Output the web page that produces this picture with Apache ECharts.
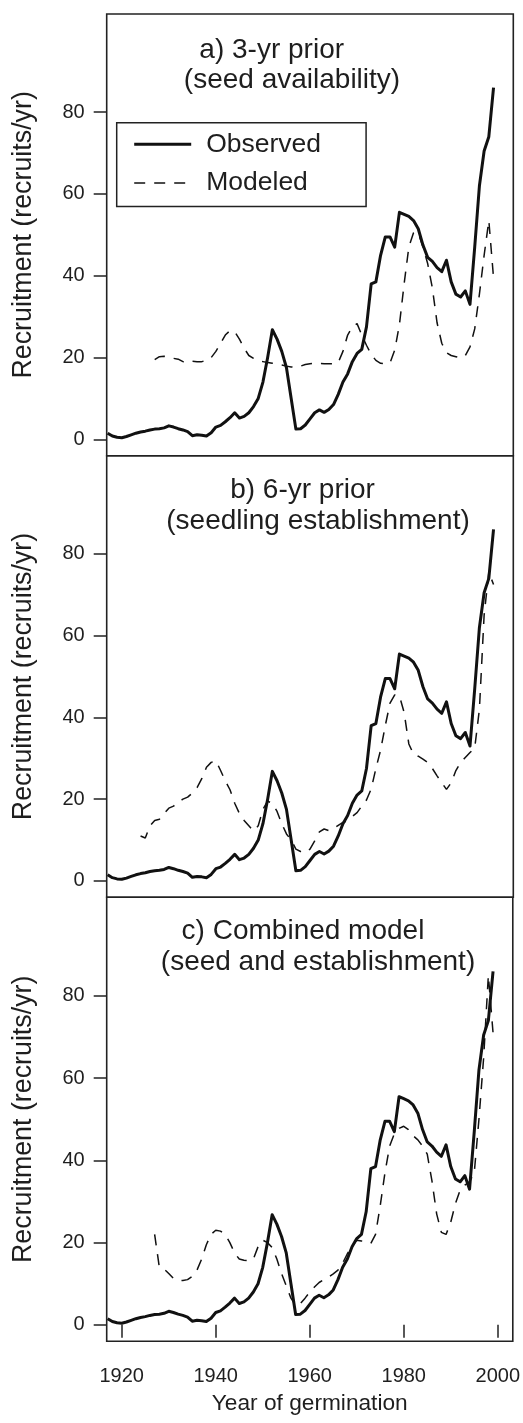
<!DOCTYPE html>
<html><head><meta charset="utf-8">
<script src="https://cdn.jsdelivr.net/npm/echarts@6/dist/echarts.min.js"></script>
<style>html,body{margin:0;padding:0;background:#fff}#c{width:523px;height:1423px}</style>
</head><body><div id="c"></div><script>
// ---- data ----
const yTickValues = [0, 20, 40, 60, 80];
const xTickValues = [1920, 1940, 1960, 1980, 2000];

const observedStart = 1917;
const observed = [
  1.5,0.8,0.5,0.4,0.7,1.1,1.5,1.8,2.0,2.3,
  2.5,2.6,2.8,3.3,3.0,2.6,2.3,1.9,0.9,1.1,
  1.0,0.8,1.6,3.0,3.4,4.3,5.3,6.5,5.2,5.6,
  6.5,8.0,10.0,14.0,20.0,26.8,24.5,21.5,17.5,10.0,
  2.5,2.6,3.5,5.0,6.5,7.2,6.6,7.3,8.5,11.0,
  14.0,16.0,19.0,21.0,22.0,27.5,38.0,38.5,45.0,49.5,
  49.5,47.0,55.5,55.0,54.5,53.5,51.5,47.5,44.5,43.5,
  42.0,41.0,43.8,38.5,35.5,34.8,36.3,33.0,47.0,62.0,
  70.5,74.0,86.0
];

const modeledAStart = 1927;
const modeledA = [
  19.5,20.2,20.3,20.0,19.8,19.6,19.0,18.7,19.1,19.0,
  19.0,19.2,20.0,21.5,23.5,25.5,26.6,26.3,24.5,22.3,
  20.5,19.8,19.2,19.0,18.8,18.6,18.4,18.2,17.9,17.7,
  17.6,17.9,18.3,18.5,18.6,18.6,18.5,18.5,18.5,18.8,
  21.5,25.5,27.5,28.3,25.5,23.0,20.8,19.3,18.6,18.5,
  18.7,21.8,28.0,38.0,47.0,50.5,50.5,47.0,43.0,37.0,
  28.5,23.5,21.2,20.5,20.2,19.9,20.5,22.6,27.0,35.5,
  45.0,53.5,39.5
];

const modeledBStart = 1924;
const modeledB = [
  11.0,10.5,13.5,14.8,15.1,16.5,17.8,18.3,19.3,20.0,
  20.5,21.5,22.8,25.0,27.8,29.0,29.4,27.0,24.5,22.3,
  19.0,16.5,14.8,13.5,12.2,13.5,17.5,19.5,19.0,17.0,
  14.0,11.5,10.0,7.8,7.2,6.9,7.8,9.8,12.0,12.7,
  12.3,12.8,13.6,14.3,14.8,15.8,16.7,18.3,19.8,22.5,
  27.5,32.0,38.0,43.5,45.5,45.3,41.2,33.5,31.0,30.5,
  29.8,29.0,27.5,25.7,24.0,22.4,24.0,27.0,29.0,30.2,
  31.4,32.5,42.0,65.0,75.5,72.5
];

const modeledCStart = 1927;
const modeledC = [
  22.0,14.0,13.6,12.5,11.3,10.8,10.8,11.0,11.8,13.3,
  16.0,19.5,22.0,23.0,22.8,22.0,20.0,17.5,16.0,15.7,
  15.6,16.0,19.0,20.6,20.0,18.8,16.0,12.5,9.5,6.5,
  4.7,5.2,6.5,8.0,9.2,10.3,11.0,11.6,12.4,13.3,
  15.0,17.3,19.0,20.6,20.4,20.2,19.8,22.0,29.0,37.0,
  43.5,46.5,47.8,48.3,47.5,46.0,45.0,43.5,41.5,35.0,
  27.0,22.5,22.0,25.0,29.5,32.8,34.0,34.8,37.0,50.0,
  65.0,85.0,71.0
];

const panelTitles = [
  ["a) 3-yr prior", "(seed availability)"],
  ["b) 6-yr prior", "(seedling establishment)"],
  ["c) Combined model", "(seed and establishment)"]
];
const seriesNames = ["Observed", "Modeled"];
const yAxisTitle = "Recruitment (recruits/yr)";
const xAxisTitle = "Year of germination";

// ---- chart ----
const FONT = "Liberation Sans, Arial, Helvetica, sans-serif";
const INK = "#1e1e1e";
function pairs(start, vals) { return vals.map((v, i) => [start + i, v]); }

const grids = [
  { top: 14, height: 441.7 },
  { top: 455.7, height: 441.6 },
  { top: 897.3, height: 444 }
];
const modeled = [[modeledAStart, modeledA], [modeledBStart, modeledB], [modeledCStart, modeledC]];

const option = {
  backgroundColor: "#fff",
  animation: false,
  textStyle: { fontFamily: FONT, color: INK },
  grid: grids.map(g => ({
    left: 106.7, right: 9.7, top: g.top, height: g.height,
    show: true, borderColor: "#222", borderWidth: 1.6, backgroundColor: "transparent",
    containLabel: false
  })),
  xAxis: grids.map((g, i) => ({
    type: "value", gridIndex: i, min: 1916.8, max: 2003.2,
    splitLine: { show: false },
    axisLine: { show: false },
    axisTick: { show: i === 2, inside: false, length: 13, customValues: xTickValues,
                lineStyle: { color: "#222", width: 1.5 } },
    axisLabel: { show: i === 2, customValues: xTickValues, margin: 25,
                 fontSize: 20, fontFamily: FONT, color: INK, formatter: v => String(v) },
    name: i === 2 ? xAxisTitle : "",
    nameLocation: "middle", nameGap: 51,
    nameTextStyle: { fontSize: 22.7, fontFamily: FONT, color: INK }
  })),
  yAxis: grids.map((g, i) => ({
    type: "value", gridIndex: i, min: -4, max: 104,
    splitLine: { show: false },
    axisLine: { show: false },
    axisTick: { show: true, inside: false, length: 13, customValues: yTickValues,
                lineStyle: { color: "#222", width: 1.5 } },
    axisLabel: { customValues: yTickValues, margin: 22, fontSize: 20,
                 fontFamily: FONT, color: INK },
    name: yAxisTitle, nameLocation: "middle", nameGap: 70, nameRotate: 90,
    nameTextStyle: { fontSize: 26.8, fontFamily: FONT, color: INK }
  })),
  legend: {
    data: seriesNames,
    orient: "vertical", left: 116.7, top: 122.7,
    backgroundColor: "#fff",
    borderColor: "#222", borderWidth: 1.5, borderRadius: 0,
    padding: [8, 45, 10, 16],
    itemWidth: 57, itemHeight: 26, itemGap: 11.7,
    itemStyle: { color: "rgba(0,0,0,0)", borderColor: "rgba(0,0,0,0)", borderWidth: 0, opacity: 0 },
    lineStyle: { width: "inherit", type: "inherit", color: "inherit" },
    textStyle: { fontSize: 26.5, fontFamily: FONT, color: INK, padding: [0, 0, 0, 10] }
  },
  series: [],
  graphic: []
};

grids.forEach((g, i) => {
  option.series.push({
    name: seriesNames[0], type: "line", xAxisIndex: i, yAxisIndex: i,
    data: pairs(observedStart, observed), symbol: "none", showSymbol: false,
    lineStyle: { color: "#111", width: 3, join: "round" }, itemStyle: { color: "#111" },
    z: 3
  });
  option.series.push({
    name: seriesNames[1], type: "line", xAxisIndex: i, yAxisIndex: i,
    data: pairs(modeled[i][0], modeled[i][1]), symbol: "none", showSymbol: false,
    lineStyle: { color: "#111", width: 1.5, type: [11, 9] }, itemStyle: { color: "#111" },
    z: 2
  });
});

const titlePos = [
  [[271.7, 50], [292, 80.5]],
  [[302.5, 490], [318, 521]],
  [[303, 931], [318, 962]]
];
panelTitles.forEach((lines, i) => {
  lines.forEach((t, j) => {
    option.graphic.push({
      type: "text", x: titlePos[i][j][0], y: titlePos[i][j][1], z: 10,
      style: { text: t, fontSize: 28, fontFamily: FONT, fill: INK,
               textAlign: "center", textVerticalAlign: "middle" }
    });
  });
});

const chart = echarts.init(document.getElementById("c"), null, { renderer: "canvas" });
chart.setOption(option);
</script></body></html>
